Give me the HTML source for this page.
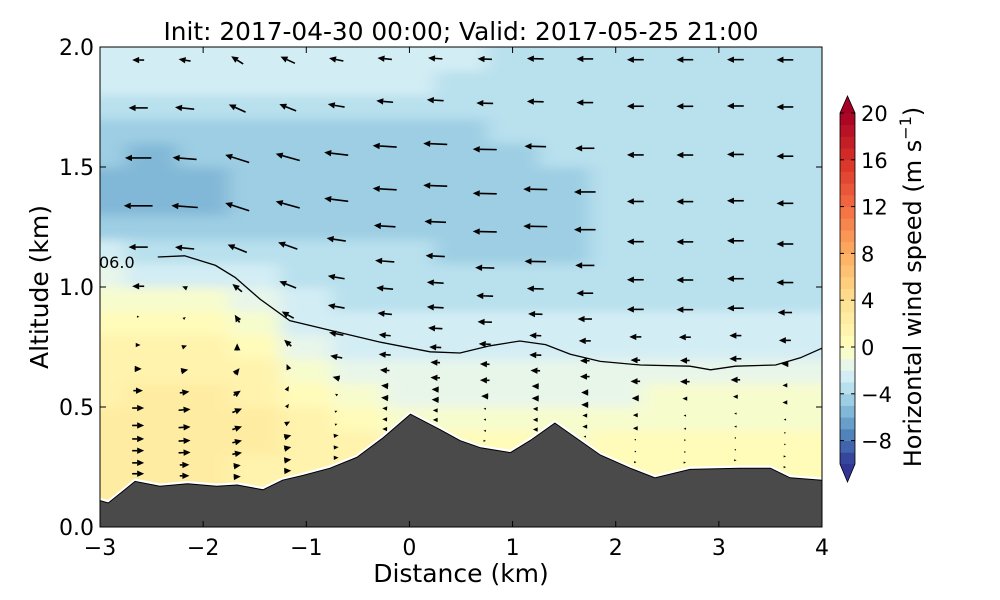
<!DOCTYPE html>
<html><head><meta charset="utf-8"><style>
html,body{margin:0;padding:0;background:#fff;}
svg{display:block;font-family:"DejaVu Sans","Liberation Sans",sans-serif;}
</style></head><body>
<svg id="chart" width="1000" height="600" viewBox="0 0 1000 600">
<defs>
<clipPath id="plotClip"><rect x="100" y="47" width="722" height="480"/></clipPath>
<filter id="smooth" x="-10%" y="-10%" width="120%" height="120%"><feGaussianBlur stdDeviation="9 5"/></filter>
</defs>
<g id="fieldLayer" clip-path="url(#plotClip)"><g id="fieldCells" filter="url(#smooth)"></g></g>
<g id="contourLayer" clip-path="url(#plotClip)"></g>
<g id="quiverLayer" clip-path="url(#plotClip)"></g>
<g id="terrainLayer" clip-path="url(#plotClip)"></g>
<rect x="100" y="47" width="722" height="480" fill="none" stroke="#000" stroke-width="1"/>
<g id="axes"></g>
<text x="99" y="268" font-size="16">06.0</text>
<text x="461" y="40" font-size="24.8" text-anchor="middle">Init: 2017-04-30 00:00; Valid: 2017-05-25 21:00</text>
<text x="461" y="582" font-size="25" text-anchor="middle">Distance (km)</text>
<text transform="translate(48,287) rotate(-90)" font-size="25" text-anchor="middle">Altitude (km)</text>
<g id="colorbar"></g>
<text transform="translate(921,287) rotate(-90)" font-size="24" text-anchor="middle">Horizontal wind speed (m s<tspan font-size="16" dy="-10">−1</tspan><tspan dy="10">)</tspan></text>
</svg>
<script>
// ---- data ----
const fieldX = [-3,-2.5,-2,-1.5,-1,-0.5,0,0.5,1,1.5,2,2.5,3,3.5,4];
const fieldZ = [0.05,0.15,0.25,0.35,0.45,0.55,0.65,0.75,0.85,0.95,1.05,1.15,1.25,1.35,1.45,1.55,1.65,1.75,1.85,1.95];
const fieldCols = [
 [2,2,2,2.5,2,1.5,1.5,1,0.5,-0.5,-2,-3,-4.5,-5.5,-5.5,-5,-4.5,-3.5,-3,-2.5],
 [2.5,2.5,2.5,2.5,2.5,2,1.5,1,0.5,-0.5,-2.5,-4,-5,-6,-6,-5.5,-5,-4,-3,-2.5],
 [2,2,2,2.5,2.5,2,1.5,1,0.5,-1,-2.5,-4,-5,-5.5,-5.5,-5,-5,-4,-3,-2.5],
 [1.5,1.5,1.5,2,2,1.5,1,0,-1,-2,-3,-4,-5,-5,-5,-5,-4.5,-3.5,-3,-2.5],
 [1.5,1.5,1.5,1.5,1,0.5,-0.5,-1.5,-2.5,-3,-3.5,-4,-5,-5,-5,-5,-4.5,-3.5,-3,-3],
 [1,1,1,1,0.5,-0.5,-1.5,-2.5,-3,-3.5,-3.5,-4,-5,-5,-5,-5,-4.5,-3.5,-3,-3],
 [-1,-1,-1,-1,-1,-1.5,-2,-2.5,-3,-3.5,-3.5,-4,-4.5,-5,-5,-5,-4.5,-3.5,-3,-3],
 [0.5,0.5,0.5,0.5,-0.5,-1.5,-2,-2.5,-3,-3.5,-4,-4.5,-5,-5,-5,-5,-4.5,-3.5,-3.5,-3],
 [0,0,0,0,-1,-1.5,-2,-2.5,-3,-3.5,-4,-4.5,-5,-5,-5,-4.5,-4,-3.5,-3.5,-3.5],
 [-0.5,-0.5,-0.5,-0.5,-1,-1.5,-2,-2.5,-3,-3.5,-4,-4.5,-4.5,-4.5,-4.5,-4,-3.5,-3.5,-3.5,-3.5],
 [0.5,0.5,0.5,0,-1,-1.5,-2,-2.5,-3,-3.5,-3.5,-3.5,-3.5,-3.5,-3.5,-3.5,-3.5,-3.5,-3.5,-3.5],
 [0.5,0.5,0.5,0,-0.5,-1,-2,-2.5,-3,-3.5,-3.5,-3.5,-3.5,-3.5,-3.5,-3.5,-3.5,-3.5,-3.5,-3.5],
 [0.5,0.5,0.5,0,-0.5,-1,-2,-2.5,-3,-3.5,-3.5,-3.5,-3.5,-3.5,-3.5,-3.5,-3.5,-3.5,-3.5,-3.5],
 [0.5,0.5,0.5,0,-0.5,-1,-1.5,-2.5,-3,-3.5,-3.5,-3.5,-3.5,-3.5,-3.5,-3.5,-3.5,-3.5,-3.5,-3.5],
 [0.5,0.5,0.5,0,-0.5,-1,-1.5,-2.5,-3,-3.5,-3.5,-3.5,-3.5,-3.5,-3.5,-3.5,-3.5,-3.5,-3.5,-3.5]
];
const terrainX = [-3,-2.92,-2.66,-2.42,-2.15,-1.87,-1.67,-1.42,-1.23,-1.03,-0.77,-0.51,-0.26,0.01,0.3,0.49,0.69,0.98,1.17,1.41,1.85,2.14,2.38,2.72,3.2,3.5,3.69,4];
const terrainZ = [0.11,0.10,0.19,0.17,0.18,0.17,0.175,0.155,0.195,0.215,0.245,0.29,0.37,0.47,0.405,0.36,0.33,0.31,0.36,0.433,0.30,0.245,0.205,0.24,0.245,0.245,0.205,0.195];
const contourX = [-2.44,-2.18,-1.88,-1.69,-1.45,-1.16,-0.77,-0.28,0.2,0.49,0.78,1.07,1.32,1.56,1.85,2.24,2.72,2.92,3.16,3.55,3.79,4];
const contourZ = [1.125,1.13,1.09,1.04,0.95,0.86,0.82,0.77,0.73,0.725,0.755,0.775,0.76,0.72,0.69,0.675,0.67,0.655,0.67,0.675,0.705,0.745];
const quiverX = [-2.63,-2.18,-1.67,-1.18,-0.71,-0.24,0.25,0.73,1.22,1.70,2.19,2.67,3.16,3.64];
const quiverEta = [0.019,0.044,0.072,0.099,0.13,0.17,0.21,0.26,0.315,0.38,0.45,0.54,0.635,0.745,0.86,0.97];
const quiverW = [0,0.4,1.6,1.4,0.6,0.3,0.2,0.1,0.1,0,0,0,0,0];
const xTicks = [-3,-2,-1,0,1,2,3,4];
const yTicks = [0.0,0.5,1.0,1.5,2.0];
const cbTicks = [-8,-4,0,4,8,12,16,20];

// ---- scales ----
const X0=100,X1=822,Y0=527,Y1=47;
const sx = v => X0 + (v+3)/7*(X1-X0);
const sy = v => Y0 - v/2*(Y0-Y1);
const NS='http://www.w3.org/2000/svg';
function mk(tag, attrs, parent){const e=document.createElementNS(NS,tag);for(const k in attrs)e.setAttribute(k,attrs[k]);parent.appendChild(e);return e;}
const stops=[[-10,[49,54,149]],[-8,[69,117,180]],[-6,[116,173,209]],[-4,[171,217,233]],[-2,[224,243,248]],[0,[255,255,191]],[4,[254,224,144]],[8,[253,174,97]],[12,[244,109,67]],[16,[215,48,39]],[20,[165,0,38]]];
function cmap(v){v=Math.max(-10,Math.min(20,v));for(let i=0;i<stops.length-1;i++){const a=stops[i],b=stops[i+1];if(v<=b[0]){const t=(v-a[0])/(b[0]-a[0]);const c=a[1].map((x,j)=>Math.round(x+(b[1][j]-x)*t));return 'rgb('+c.join(',')+')';}}return 'rgb(165,0,38)';}
function binColor(v){return cmap(Math.floor(v)+0.5);}
function interpTerrain(x){for(let i=0;i<terrainX.length-1;i++){if(x<=terrainX[i+1]){const t=(x-terrainX[i])/(terrainX[i+1]-terrainX[i]);return terrainZ[i]+(terrainZ[i+1]-terrainZ[i])*t;}}return terrainZ[terrainZ.length-1];}
function fieldAt(x,z){let bi=0,bd=1e9;fieldX.forEach((fx,i)=>{const d=Math.abs(fx-x);if(d<bd){bd=d;bi=i;}});let bj=0,bz=1e9;fieldZ.forEach((fz,j)=>{const d=Math.abs(fz-z);if(d<bz){bz=d;bj=j;}});return fieldCols[bi][bj];}

// ---- field ----
const fc=document.getElementById('fieldCells');
fieldCols.forEach((col,i)=>{col.forEach((v,j)=>{
  let x0=fieldX[i]-0.25,x1=fieldX[i]+0.25;if(i===0)x0-=0.5;if(i===fieldX.length-1)x1+=0.5;
  let z0=fieldZ[j]-0.05,z1=fieldZ[j]+0.05;if(j===fieldZ.length-1)z1+=0.2;if(j===0)z0-=0.2;
  const r=mk('rect',{x:sx(x0),y:sy(z1),width:sx(x1)-sx(x0)+0.5,height:sy(z0)-sy(z1)+0.5,fill:binColor(v)},fc);
  
  
});});

// ---- contour ----
const cl=document.getElementById('contourLayer');
const cp=mk('polyline',{points:contourX.map((x,i)=>sx(x)+','+sy(contourZ[i])).join(' '),fill:'none',stroke:'#000','stroke-width':1.3},cl);



// ---- quiver ----
const ql=document.getElementById('quiverLayer');
const scale=4.8;
quiverX.forEach((x,i)=>{const zs=interpTerrain(x);quiverEta.forEach(e=>{
  const z=zs+(2-zs)*e;const u=fieldAt(x,z);const w=quiverW[i]*Math.min(1,e*3);
  const px=sx(x),py=sy(z);const dx=u*scale,dy=-w*scale;const L=Math.hypot(dx,dy);
  const g=mk('g',{},ql);
  
  
  if(L<0.5){mk('circle',{cx:px,cy:py,r:0.7,fill:'#000'},g);return;}
  const ux=dx/L,uy=dy/L,nx=-uy,ny=ux;
  const tx=px+dx/2,ty=py+dy/2;const hl=Math.min(7,L),hw=Math.min(3.2,L*0.45);
  const bx=tx-ux*hl,by=ty-uy*hl;
  if(L>hl) mk('line',{x1:px-dx/2,y1:py-dy/2,x2:bx,y2:by,stroke:'#000','stroke-width':1.6},g);
  mk('polygon',{points:`${tx},${ty} ${bx+nx*hw},${by+ny*hw} ${bx-nx*hw},${by-ny*hw}`,fill:'#000'},g);
});});

// ---- terrain ----
const tl=document.getElementById('terrainLayer');
const tpts=terrainX.map((x,i)=>sx(x)+','+sy(terrainZ[i])).join(' ');
const tp=mk('polygon',{points:tpts+' '+sx(4)+','+(Y0+5)+' '+sx(-3)+','+(Y0+5),fill:'#4a4a4a'},tl);


mk('polyline',{points:tpts,fill:'none',stroke:'#fff','stroke-width':2.5,transform:'translate(0,-1.5)'},tl);
mk('polyline',{points:tpts,fill:'none',stroke:'#000','stroke-width':1},tl);

// ---- axes ----
const ax=document.getElementById('axes');
xTicks.forEach(t=>{const x=sx(t);
  mk('line',{x1:x,y1:Y0,x2:x,y2:Y0-6,stroke:'#000'},ax);mk('line',{x1:x,y1:Y1,x2:x,y2:Y1+6,stroke:'#000'},ax);
  const tx=mk('text',{x:x,y:555,'font-size':22,'text-anchor':'middle'},ax);tx.textContent=(t<0?'−'+(-t):''+t);
  
  
});
yTicks.forEach(t=>{const y=sy(t);
  mk('line',{x1:X0,y1:y,x2:X0+6,y2:y,stroke:'#000'},ax);mk('line',{x1:X1,y1:y,x2:X1-6,y2:y,stroke:'#000'},ax);
  const tx=mk('text',{x:94,y:y+8,'font-size':22,'text-anchor':'end'},ax);tx.textContent=t.toFixed(1);
  
  
});

// ---- colorbar ----
const cb=document.getElementById('colorbar');
const CX0=840,CX1=855,cy=v=>347-v*11.7;
for(let v=-10;v<20;v++){const r=mk('rect',{x:CX0,y:cy(v+1),width:CX1-CX0,height:cy(v)-cy(v+1)+0.4,fill:cmap(v+0.5)},cb);
  
  }
mk('polygon',{points:`${CX0},${cy(20)} ${(CX0+CX1)/2},${cy(20)-17} ${CX1},${cy(20)}`,fill:'#a50026'},cb);
mk('polygon',{points:`${CX0},${cy(-10)} ${(CX0+CX1)/2},${cy(-10)+18} ${CX1},${cy(-10)}`,fill:'#313695'},cb);
mk('polygon',{points:`${CX0},${cy(20)} ${(CX0+CX1)/2},${cy(20)-17} ${CX1},${cy(20)} ${CX1},${cy(-10)} ${(CX0+CX1)/2},${cy(-10)+18} ${CX0},${cy(-10)}`,fill:'none',stroke:'#000','stroke-width':0.8},cb);
cbTicks.forEach(t=>{const y=cy(t);mk('line',{x1:CX1-4,y1:y,x2:CX1,y2:y,stroke:'#000'},cb);mk('line',{x1:CX0,y1:y,x2:CX0+4,y2:y,stroke:'#000'},cb);
  const tx=mk('text',{x:861,y:y+8,'font-size':21},cb);tx.textContent=(t<0?'−'+(-t):''+t);
  
  });
</script>
</body></html>
